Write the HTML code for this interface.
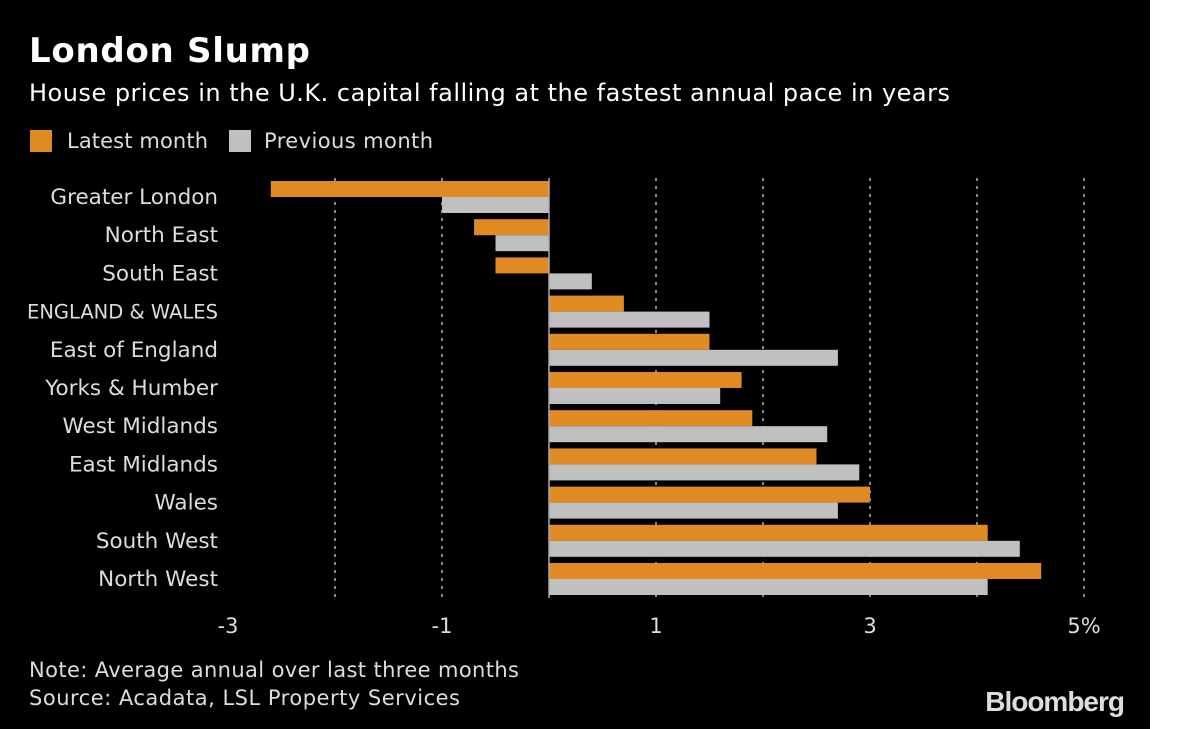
<!DOCTYPE html>
<html><head><meta charset="utf-8"><style>
body{margin:0;width:1200px;height:729px;background:#fff;overflow:hidden;font-family:"DejaVu Sans","Liberation Sans",sans-serif;}
#bg{position:absolute;left:0;top:0;width:1150px;height:729px;background:#000;}
svg{position:absolute;left:0;top:0;}
</style></head><body>
<div id="bg"></div>
<svg width="1200" height="729" id="chart">
<text x="29" y="62" fill="#fff" font-size="34" font-weight="bold" textLength="281">London Slump</text>
<text x="29" y="101" fill="#fff" font-size="24" textLength="921">House prices in the U.K. capital falling at the fastest annual pace in years</text>
<g>
<rect x="30" y="130" width="22" height="22" fill="#e08a24"/>
<text x="67" y="148" fill="#ddd" font-size="21" textLength="141">Latest month</text>
<rect x="229" y="130" width="22" height="22" fill="#c0c0c0"/>
<text x="264" y="148" fill="#ddd" font-size="21" textLength="169">Previous month</text>
</g>
<g id="grid"></g><g id="bars"></g><g id="labels"></g>
<text x="29" y="677" fill="#ddd" font-size="21" textLength="490">Note: Average annual over last three months</text>
<text x="29" y="705" fill="#ddd" font-size="21" textLength="431">Source: Acadata, LSL Property Services</text>
<text x="1124" y="711" fill="#ddd" font-size="28" font-weight="bold" text-anchor="end" font-family="Liberation Sans, sans-serif" letter-spacing="-1">Bloomberg</text>
</svg>
<script>
const categories=["Greater London","North East","South East","ENGLAND & WALES","East of England","Yorks & Humber","West Midlands","East Midlands","Wales","South West","North West"];
const latest=[-2.6,-0.7,-0.5,0.7,1.5,1.8,1.9,2.5,3.0,4.1,4.6];
const previous=[-1.0,-0.5,0.4,1.5,2.7,1.6,2.6,2.9,2.7,4.4,4.1];
const gridValues=[-2,-1,1,2,3,4,5];
const tickValues=[-3,-1,1,3,5];
const tickLabels=["-3","-1","1","3","5%"];
const NS="http://www.w3.org/2000/svg";
const x=v=>549+v*107;
const rowY=i=>181+i*38.2;
const BH=16;
function mk(t,a,p){const e=document.createElementNS(NS,t);for(const k in a)e.setAttribute(k,a[k]);p.appendChild(e);return e;}
const grid=document.getElementById('grid'),bars=document.getElementById('bars'),labels=document.getElementById('labels');
gridValues.forEach(v=>{
 const l=mk('line',{x1:x(v),x2:x(v),y1:178,y2:598,stroke:'#888','stroke-width':2,'stroke-dasharray':'3,5'},grid);
 
 
});
tickValues.forEach((v,i)=>{
 const t=mk('text',{x:x(v),y:633,fill:'#ddd','font-size':21,'text-anchor':'middle'},labels);
 t.textContent=tickLabels[i];
 
 
});
categories.forEach((c,i)=>{
 const y=rowY(i);
 const a=latest[i],b=previous[i];
 const r1=mk('rect',{x:Math.min(x(0),x(a)),y:y,width:Math.abs(x(a)-x(0)),height:BH,fill:'#e08a24'},bars);
 
 
 const r2=mk('rect',{x:Math.min(x(0),x(b)),y:y+BH,width:Math.abs(x(b)-x(0)),height:BH,fill:'#c0c0c0'},bars);
 
 
 const fs=(c==="ENGLAND & WALES")?19.5:21.5;
 const t=mk('text',{x:218,y:y+23,fill:'#ddd','font-size':fs,'text-anchor':'end'},labels);
 t.textContent=c;
 
 
});
const ax=mk('line',{x1:x(0),x2:x(0),y1:178,y2:598,stroke:'#aaa','stroke-width':1.5},bars);


</script>
</body></html>
